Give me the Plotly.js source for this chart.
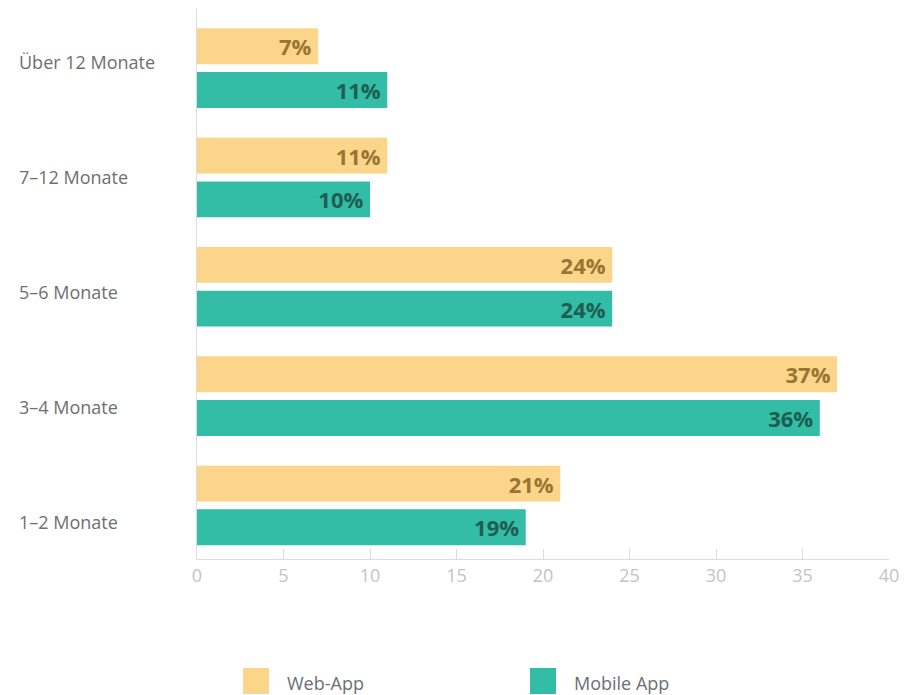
<!DOCTYPE html>
<html>
<head>
<meta charset="utf-8">
<script src="https://cdn.plot.ly/plotly-3.0.1.min.js"></script>
<style>html,body{margin:0;padding:0;background:#fff;}#chart{width:907px;height:695px;}</style>
</head>
<body>
<div id="chart"></div>
<script>
const categories = ["1–2 Monate", "3–4 Monate", "5–6 Monate", "7–12 Monate", "Über 12 Monate"];
const webApp = [21, 37, 24, 11, 7];
const mobileApp = [19, 36, 24, 10, 11];
const seriesNames = ["Web-App", "Mobile App"];
const xTicks = [0, 5, 10, 15, 20, 25, 30, 35, 40];

const FONT = "Open Sans, Noto Sans, sans-serif";
const WEB_COLOR = "#FBD68A", MOB_COLOR = "#33BDA6";

const traces = [
  {
    type: "bar", orientation: "h", name: seriesNames[1],
    y: categories, x: mobileApp,
    marker: {color: MOB_COLOR},
    texttemplate: "%{x}%\u2009", textposition: "inside", insidetextanchor: "end",
    constraintext: "none",
    insidetextfont: {family: FONT, size: 22, color: "#1D5E51", weight: "bold"},
    hoverinfo: "x+y", showlegend: false
  },
  {
    type: "bar", orientation: "h", name: seriesNames[0],
    y: categories, x: webApp,
    marker: {color: WEB_COLOR},
    texttemplate: "%{x}%\u2009", textposition: "inside", insidetextanchor: "end",
    constraintext: "none",
    insidetextfont: {family: FONT, size: 22, color: "#9A7431", weight: "bold"},
    hoverinfo: "x+y", showlegend: false
  }
];

// layout geometry
const W = 907, H = 695;
const M = {l: 197, r: 18, t: 8, b: 136};
const pw = W - M.l - M.r, ph = H - M.t - M.b;
const px2x = p => (p - M.l) / pw;
const py2y = p => (H - M.b - p) / ph;

const annotations = categories.map((c, i) => ({
  xref: "paper", yref: "paper",
  x: px2x(17), y: py2y(522 - 115 * i),
  xanchor: "left", yanchor: "middle",
  text: c, showarrow: false,
  font: {family: FONT, size: 18, color: "#6f6f6f"}
}));

const legendItems = [
  {name: seriesNames[0], color: WEB_COLOR, sx: 243, tx: 285},
  {name: seriesNames[1], color: MOB_COLOR, sx: 530, tx: 572}
];
const shapes = [];
legendItems.forEach(it => {
  shapes.push({
    type: "rect", xref: "paper", yref: "paper",
    x0: px2x(it.sx), x1: px2x(it.sx + 26), y0: py2y(694), y1: py2y(668),
    fillcolor: it.color, line: {width: 0}
  });
  annotations.push({
    xref: "paper", yref: "paper", x: px2x(it.tx), y: py2y(683),
    xanchor: "left", yanchor: "middle", text: it.name, showarrow: false,
    font: {family: FONT, size: 18, color: "#6b6f75"}
  });
});

const layout = {
  width: W, height: H,
  margin: M,
  paper_bgcolor: "#fff", plot_bgcolor: "#fff",
  barmode: "group", bargap: 0.2, bargroupgap: 0.18,
  showlegend: false,
  xaxis: {
    range: [0, 40], tickvals: xTicks, ticktext: xTicks.map(String),
    showgrid: false, zeroline: false,
    showline: true, linecolor: "#dcdce0", linewidth: 1,
    ticks: "inside", ticklen: 10, tickcolor: "#dcdce0", tickwidth: 1,
    tickfont: {family: FONT, size: 18, color: "#c3c3c8"},
    fixedrange: true
  },
  yaxis: {
    type: "category", range: [-0.49, 4.55],
    showticklabels: false, ticks: "",
    showgrid: false, zeroline: false,
    showline: true, linecolor: "#dcdce0", linewidth: 1,
    fixedrange: true
  },
  annotations: annotations,
  shapes: shapes,
  font: {family: FONT}
};

Plotly.newPlot("chart", traces, layout, {displayModeBar: false, staticPlot: true});
</script>
</body>
</html>
